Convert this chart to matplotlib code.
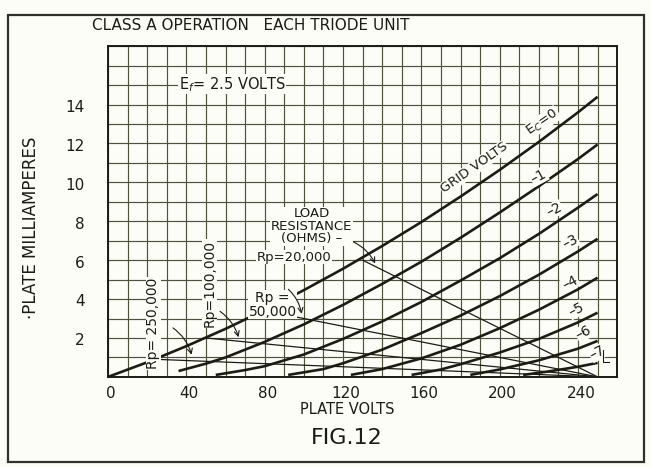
import matplotlib.pyplot as plt
from matplotlib.patches import Rectangle

# plate characteristic curves, one per grid bias (plate volts, plate mA)
grid_volts = [0, -1, -2, -3, -4, -5, -6, -7]

ec0_v = [0, 20, 40, 60, 80, 100, 120, 140, 160, 180, 200, 220, 240, 250]
ec0_ma = [0, 0.75, 1.58, 2.47, 3.43, 4.46, 5.56, 6.73, 7.96, 9.27, 10.64, 12.08, 13.6, 14.4]

ec1_v = [36, 50, 60, 80, 100, 120, 140, 160, 180, 200, 220, 240, 250]
ec1_ma = [0.3, 0.68, 1.0, 1.8, 2.7, 3.7, 4.78, 5.92, 7.15, 8.45, 9.8, 11.2, 11.95]

ec2_v = [55, 70, 80, 100, 120, 140, 160, 180, 200, 220, 240, 250]
ec2_ma = [0.1, 0.35, 0.55, 1.15, 1.95, 2.85, 3.85, 4.95, 6.1, 7.35, 8.7, 9.4]

ec3_v = [92, 110, 120, 140, 160, 180, 200, 220, 240, 250]
ec3_ma = [0.1, 0.4, 0.7, 1.4, 2.25, 3.15, 4.15, 5.25, 6.45, 7.1]

ec4_v = [124, 140, 160, 180, 200, 220, 240, 250]
ec4_ma = [0.1, 0.4, 0.95, 1.65, 2.5, 3.45, 4.5, 5.1]

ec5_v = [155, 170, 180, 200, 220, 240, 250]
ec5_ma = [0.1, 0.38, 0.65, 1.25, 1.95, 2.8, 3.3]

ec6_v = [185, 200, 220, 240, 250]
ec6_ma = [0.1, 0.38, 0.85, 1.45, 1.85]

ec7_v = [212, 225, 240, 250]
ec7_ma = [0.1, 0.28, 0.52, 0.72]

curves = [(ec0_v, ec0_ma), (ec1_v, ec1_ma), (ec2_v, ec2_ma), (ec3_v, ec3_ma),
          (ec4_v, ec4_ma), (ec5_v, ec5_ma), (ec6_v, ec6_ma), (ec7_v, ec7_ma)]

# load lines from the Ec=0 curve down to the 250 V supply
supply_v = 250
load_ohms = [250000, 100000, 50000, 20000]
load_start_v = [24, 50, 80, 130]

x_ticks = [0, 40, 80, 120, 160, 200, 240]
y_ticks = [2, 4, 6, 8, 10, 12, 14]

ink = '#1c1c14'
grid_ink = '#50503f'
paper = '#fdfdf8'

fig = plt.figure(figsize=(6.51, 4.67), dpi=100)
fig.patch.set_facecolor(paper)
ax = fig.add_axes([0.166, 0.193, 0.782, 0.708])
ax.set_facecolor(paper)

for v, ma in curves:
    ax.plot(v, ma, color=ink, lw=1.9, solid_capstyle='butt', zorder=3)

for r, v0 in zip(load_ohms, load_start_v):
    i0 = (supply_v - v0) / r * 1000
    ax.plot([v0, supply_v], [i0, 0], color=ink, lw=0.9, zorder=3)

ax.set_xlim(0, 260)
ax.set_ylim(0, 17)
ax.set_xticks(range(0, 261, 10))
ax.set_yticks(range(0, 18))
ax.grid(True, color=grid_ink, lw=0.85)
ax.set_axisbelow(True)
ax.tick_params(length=0, labelbottom=False, labelleft=False)
for s in ax.spines.values():
    s.set_color(ink)
    s.set_linewidth(1.4)

for x in x_ticks:
    ax.text(x + 1.5, -0.45, str(x), ha='center', va='top', fontsize=11, color=ink)
for y in y_ticks:
    ax.text(-12, y - 0.15, str(y), ha='right', va='center', fontsize=11, color=ink)

ax.text(122, -1.7, 'PLATE VOLTS', ha='center', va='center', fontsize=10.5, color=ink)
ax.text(122, -3.15, 'FIG.12', ha='center', va='center', fontsize=16, color=ink)
fig.text(0.048, 0.512, '·PLATE MILLIAMPERES', rotation=90, ha='center', va='center',
         fontsize=12, color=ink)
fig.text(0.385, 0.945, 'CLASS A OPERATION   EACH TRIODE UNIT', ha='center', va='center',
         fontsize=11, color=ink)

box = dict(facecolor=paper, edgecolor='none', pad=0.4)
ax.text(36, 15.05, r'E$_f$= 2.5 VOLTS', ha='left', va='center', fontsize=10.5,
        color=ink, bbox=box, zorder=4)

# grid bias labels along the right ends of the curves
ax.text(187, 10.75, 'GRID VOLTS', rotation=35, ha='center', va='center', fontsize=9.5,
        color=ink, bbox=box, zorder=4)
ax.text(222, 13.1, r'E$_C$=0', rotation=35, ha='center', va='center', fontsize=9.5,
        color=ink, bbox=box, zorder=4)
bias_pos = [(220, 10.3), (228, 8.6), (236, 6.95), (236, 4.85), (239, 3.45), (243, 2.27), (250, 1.24)]
for g, (bx, by) in zip(grid_volts[1:], bias_pos):
    ax.text(bx, by, '\u2013%d' % -g, rotation=28, ha='center', va='center', fontsize=10,
            color=ink, bbox=box, zorder=4)
ax.plot([253, 253, 256], [1.4, 0.75, 0.75], color=ink, lw=0.8, zorder=4)

# load resistance labels with pointer arrows
ax.text(23, 2.75, 'Rp= 250,000', rotation=90, ha='center', va='center', fontsize=10,
        color=ink, bbox=box, zorder=4)
ax.text(52, 4.8, 'Rp=100,000', rotation=90, ha='center', va='center', fontsize=10,
        color=ink, bbox=box, zorder=4)
ax.text(84, 3.7, 'Rp =\n50,000', ha='center', va='center', fontsize=10, color=ink,
        linespacing=1.0, bbox=box, zorder=4)
ax.text(104, 7.75, 'LOAD\nRESISTANCE\n(OHMS) \u2013', ha='center', va='center',
        fontsize=9.5, color=ink, linespacing=0.95, bbox=box, zorder=4)
ax.text(95, 6.15, 'Rp=20,000', ha='center', va='center', fontsize=9.5, color=ink,
        bbox=box, zorder=4)

arrow = dict(arrowstyle='->', color=ink, lw=0.8, mutation_scale=9,
             connectionstyle='arc3,rad=-0.2')
ax.annotate('', xy=(43, 1.0), xytext=(32, 2.6), arrowprops=arrow, zorder=4)
ax.annotate('', xy=(67, 1.9), xytext=(56, 3.45), arrowprops=arrow, zorder=4)
ax.annotate('', xy=(99, 3.1), xytext=(91, 4.6), arrowprops=arrow, zorder=4)
ax.annotate('', xy=(137, 5.7), xytext=(124, 7.0), arrowprops=arrow, zorder=4)

# outer frame of the figure
fig.patches.append(Rectangle((0.013, 0.01), 0.977, 0.958, transform=fig.transFigure,
                             fill=False, edgecolor='#303028', lw=1.6))

fig.savefig('out.png', dpi=100, facecolor=fig.get_facecolor())
